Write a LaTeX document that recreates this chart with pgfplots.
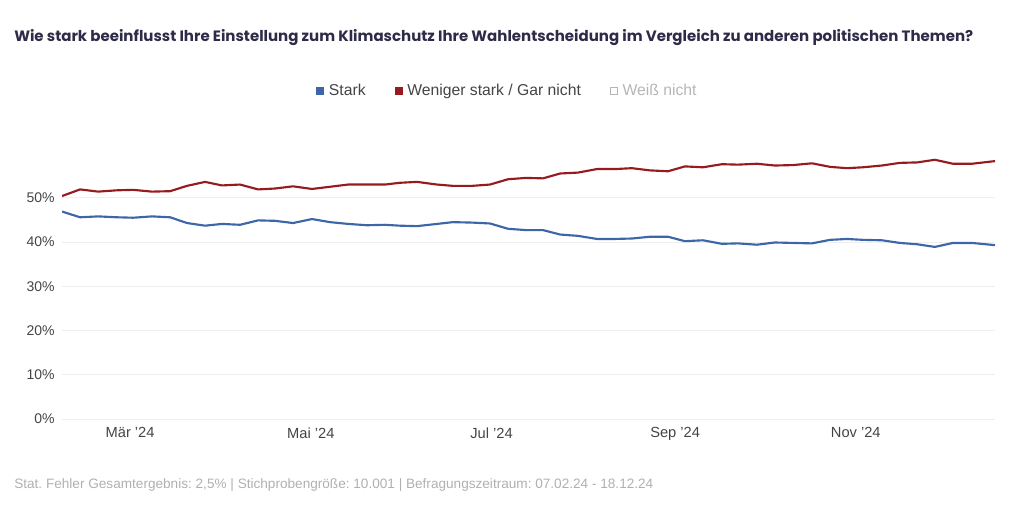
\documentclass[border=0pt]{standalone}
\usepackage{fontspec}
\setmainfont{Liberation Sans}
\newfontfamily\titlefont{Poppins}
\usepackage{pgfplots}
\usepackage{pgfplotstable}
\pgfplotsset{compat=1.18}
\frenchspacing
\definecolor{cblue}{HTML}{3D66A8}
\definecolor{cred}{HTML}{961B1F}
\definecolor{ctitle}{HTML}{2D2B47}
\definecolor{ctick}{HTML}{444444}
\definecolor{cgrid}{HTML}{EEEEEE}
\definecolor{cfoot}{HTML}{B0B0B0}
\definecolor{clegthird}{HTML}{B5B5B5}

% day = days since 07.02.24
\pgfplotstableread{
day stark weniger
0     46.9 50.4
6.1   45.6 51.9
12.2  45.8 51.4
18.6  45.6 51.7
24.0  45.5 51.8
30.4  45.8 51.4
36.5  45.6 51.5
42.2  44.3 52.7
48.3  43.7 53.6
54.0  44.1 52.8
60.1  43.9 53.0
66.2  44.9 51.9
71.9  44.8 52.1
78.0  44.3 52.6
84.4  45.2 52.0
90.5  44.5 52.5
96.6  44.1 53.0
103.0 43.8 53.0
109.0 43.9 53.0
114.1 43.7 53.4
119.9 43.6 53.6
126.6 44.1 53.0
132.0 44.5 52.7
138.4 44.4 52.7
144.5 44.2 53.0
150.6 43.0 54.2
156.7 42.7 54.5
162.4 42.7 54.4
168.2 41.7 55.5
174.2 41.4 55.7
180.6 40.7 56.5
186.7 40.7 56.5
192.4 40.8 56.7
198.5 41.2 56.2
204.6 41.2 56.0
210.3 40.2 57.1
216.4 40.4 56.9
222.8 39.6 57.6
228.2 39.7 57.5
234.6 39.4 57.7
240.7 39.9 57.3
246.8 39.8 57.4
253.2 39.7 57.8
259.3 40.5 57.0
265.0 40.7 56.7
270.4 40.5 56.9
276.8 40.4 57.3
282.9 39.8 57.9
288.7 39.5 58.0
294.7 38.9 58.6
300.8 39.8 57.7
307.2 39.8 57.7
315.0 39.3 58.3
}\datatable

\begin{document}
\begin{tikzpicture}
\path[use as bounding box] (0,0) rectangle (768pt,383.25pt);
\node[anchor=west, inner sep=0pt, text=ctitle, font=\titlefont\bfseries\fontsize{11.25}{13}\selectfont] at (10.5pt,355pt) {Wie stark beeinflusst Ihre Einstellung zum Klimaschutz Ihre Wahlentscheidung im Vergleich zu anderen politischen Themen?};
\begin{axis}[
  at={(46.5pt,69pt)}, anchor=south west,
  scale only axis, width=699.75pt, height=195.75pt,
  xmin=0, xmax=315, ymin=0, ymax=59,
  axis line style={draw=none},
  major tick length=0pt,
  ymajorgrids, grid style={color=cgrid, line width=0.7pt},
  xtick={23,84,145,207,268},
  xticklabels={Mär '24, Mai '24, Jul '24, Sep '24, Nov '24},
  ytick={0,10,20,30,40,50},
  yticklabels={0\%,10\%,20\%,30\%,40\%,50\%},
  tick label style={font=\fontsize{10.5}{12}\selectfont, text=ctick},
  yticklabel style={anchor=east, xshift=-2pt},
  xticklabel style={yshift=-3pt, font=\fontsize{11}{13}\selectfont},
  legend columns=3,
  legend style={at={(0.478,1.257)}, anchor=center, draw=none, fill=none,
    font=\fontsize{11.8}{14}\selectfont, text=ctick,
    /tikz/every odd column/.append style={column sep=2pt},
    /tikz/every even column/.append style={column sep=20pt}},
  legend cell align=left,
]
\addlegendimage{only marks, mark=square*, mark size=2.6pt, mark options={draw=cblue, fill=cblue}}
\addlegendentry{Stark}
\addlegendimage{only marks, mark=square*, mark size=2.6pt, mark options={draw=cred, fill=cred}}
\addlegendentry{Weniger stark / Gar nicht}
\addlegendimage{only marks, mark=square, mark size=2.6pt, mark options={draw=clegthird, fill=white, line width=0.5pt}}
\addlegendentry{\textcolor{clegthird}{Weiß nicht}}
\addplot[forget plot, color=cblue, line width=1.6pt, line join=round] table[x=day, y=stark] {\datatable};
\addplot[forget plot, color=cred, line width=1.6pt, line join=round] table[x=day, y=weniger] {\datatable};
\end{axis}
\node[anchor=west, inner sep=0pt, text=cfoot, font=\fontsize{10.2}{12}\selectfont] at (10.5pt,19.5pt) {Stat. Fehler Gesamtergebnis: 2,5\% | Stichprobengröße: 10.001 | Befragungszeitraum: 07.02.24 - 18.12.24};
\end{tikzpicture}
\end{document}
